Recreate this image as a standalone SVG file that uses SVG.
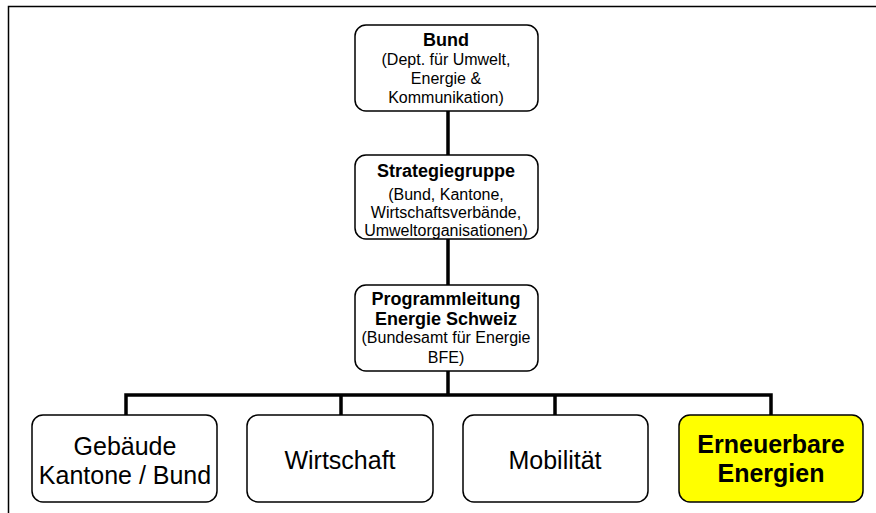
<svg xmlns="http://www.w3.org/2000/svg" width="876" height="513" viewBox="0 0 876 513">
<style>
.box{fill:#fff;stroke:#000;stroke-width:1.5}
.hl{fill:#ffff00}
.con{stroke:#000;stroke-width:3.5;fill:none;stroke-linecap:square}
text{font-family:"Liberation Sans",Arial,sans-serif;fill:#000;text-anchor:middle}
.s{font-size:16px}
.b{font-size:18px;font-weight:bold}
.l{font-size:25px}
.lb{font-size:25px;font-weight:bold}
</style>
<rect x="0" y="0" width="876" height="513" fill="#fff"/>
<path d="M8.5,513 V6.5 H876" fill="none" stroke="#000" stroke-width="1.5"/>
<g id="connectors">
<path class="con" d="M448,111 V155 M448,238 V285 M448,371 V395 M126,415 V395 H771 V415 M341,395 V415 M555,395 V415"/>
</g>
<g id="bund">
<rect class="box" x="355" y="25" width="183" height="86" rx="11"/>
<text class="b" x="446" y="46">Bund</text>
<text class="s" x="446" y="65">(Dept. für Umwelt,</text>
<text class="s" x="446" y="84">Energie &amp;</text>
<text class="s" x="446" y="103">Kommunikation)</text>
</g>
<g id="strategiegruppe">
<rect class="box" x="355" y="155" width="183" height="84" rx="11"/>
<text class="b" x="446" y="177">Strategiegruppe</text>
<text class="s" x="446" y="200">(Bund, Kantone,</text>
<text class="s" x="446" y="218">Wirtschaftsverbände,</text>
<text class="s" x="446" y="236">Umweltorganisationen)</text>
</g>
<g id="programmleitung">
<rect class="box" x="355" y="285" width="183" height="86" rx="11"/>
<text class="b" x="446" y="305">Programmleitung</text>
<text class="b" x="446" y="325">Energie Schweiz</text>
<text class="s" x="446" y="343">(Bundesamt für Energie</text>
<text class="s" x="446" y="363">BFE)</text>
</g>
<g id="gebaeude">
<rect class="box" x="32" y="415" width="185" height="87" rx="11"/>
<text class="l" x="125" y="455">Gebäude</text>
<text class="l" x="125" y="484">Kantone / Bund</text>
</g>
<g id="wirtschaft">
<rect class="box" x="247" y="415" width="186" height="87" rx="11"/>
<text class="l" x="340" y="469">Wirtschaft</text>
</g>
<g id="mobilitaet">
<rect class="box" x="463" y="415" width="185" height="87" rx="11"/>
<text class="l" x="555" y="469">Mobilität</text>
</g>
<g id="erneuerbare">
<rect class="box hl" x="679" y="415" width="184" height="87" rx="11"/>
<text class="lb" x="771" y="453">Erneuerbare</text>
<text class="lb" x="771" y="482">Energien</text>
</g>
</svg>
